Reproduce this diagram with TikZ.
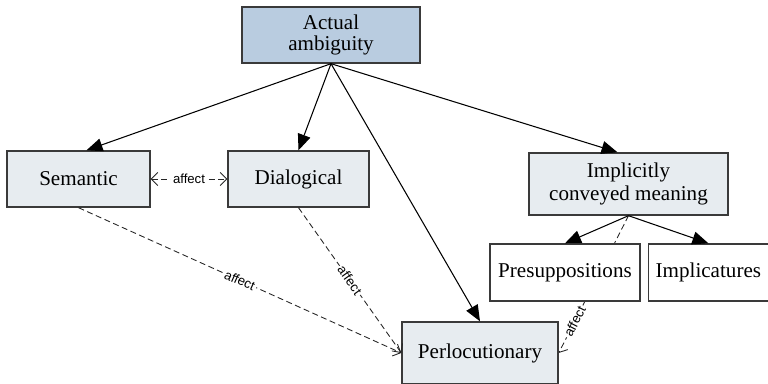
\documentclass[tikz,border=0pt]{standalone}
\usepackage{fontspec}
\setmainfont{Liberation Serif}
\newfontfamily\labelfont{Liberation Sans}
\usetikzlibrary{arrows.meta,positioning,backgrounds}
\usepackage{xcolor}
\definecolor{ambfill}{HTML}{B9CCE0}
\definecolor{boxfill}{HTML}{E7ECF0}
\definecolor{boxline}{HTML}{3A3A3A}
\tikzset{box/.style={draw=boxline, line width=0.8pt, fill=boxfill, align=center, inner sep=0pt, font=\fontsize{12}{12.5}\selectfont},
	line/.style={-{Triangle[length=3.2mm,width=2.6mm]}, line width=0.6pt},
	>={Straight Barb[length=1.3mm,width=2.6mm]}
}

\begin{document}
\begin{tikzpicture}[x=0.02cm,y=0.02cm]
\tikzstyle{top} = [box, fill=ambfill, font=\fontsize{12}{12}\selectfont]
\tikzstyle{plain} = [box, fill=white]
\tikzstyle{affects} = [draw=black!85, dash pattern=on 1.2mm off 0.7mm, line width=0.5pt]
\tikzstyle{tag} = [font=\labelfont\fontsize{7.5}{8}\selectfont, fill=white, inner sep=1pt, sloped]

\useasboundingbox (0,0) rectangle (768,384);

\node [top, minimum width=3.56cm, minimum height=1.12cm] (amb) at (331,349) {Actual\\ambiguity};
\node [box, minimum width=2.86cm, minimum height=1.12cm] (sem) at (78.5,205) {Semantic};
\node [box, minimum width=2.82cm, minimum height=1.12cm] (dia) at (298.5,205) {Dialogical};
\node [box, minimum width=3.98cm, minimum height=1.24cm, font=\fontsize{12}{13}\selectfont] (icm) at (628.5,200) {Implicitly\\conveyed meaning};
\node [plain, minimum width=3cm, minimum height=1.14cm] (pre) at (565,111.5) {Presuppositions};
\node [plain, minimum width=2.4cm, minimum height=1.14cm, right=0.14cm of pre] (imp) {Implicatures};
\node [box, minimum width=3.12cm, minimum height=1.24cm] (per) at (480,31) {Perlocutionary};

%Lines
\draw[line] (amb.south) -- ([xshift=0.16cm]sem.north);
\draw[line] (amb.south) -- (dia.north);
\draw[line] (amb.south) -- (per.north);
\draw[line] (amb.south) -- ([xshift=-0.22cm]icm.north);
\draw[line] (icm.south) -- (pre.north);
\draw[line] (icm.south) -- (imp.north);

%affect links
\draw[affects, <->] (sem.east) -- node[tag] {affect} (dia.west);
\draw[affects, ->] (sem.south) -- node[tag] {affect} (per.west);
\draw[affects, ->] (dia.south) -- node[tag] {affect} (per.west);
\begin{scope}[on background layer]
\draw[affects, ->] (icm.south) -- node[tag, pos=0.77] {affect} (per.east); % runs behind the presuppositions box
\end{scope}
\end{tikzpicture}
\end{document}
